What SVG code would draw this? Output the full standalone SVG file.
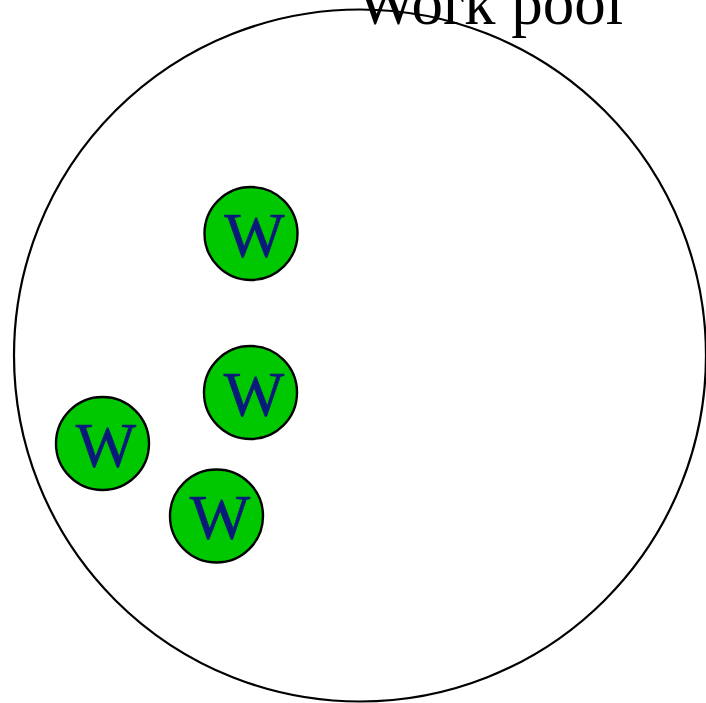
<svg xmlns="http://www.w3.org/2000/svg" width="706" height="703" viewBox="0 0 706 703">
<style>
.pool{fill:none;stroke:#000;stroke-width:2.2}
.w circle{fill:#00c800;stroke:#000;stroke-width:2.4}
.w text{font-family:"Liberation Serif",serif;font-size:64px;fill:#0a1a7a;stroke:#0a1a7a;stroke-width:0.6;text-anchor:middle}
.title{font-family:"Liberation Serif",serif;font-size:63px;fill:#000}
</style>
<rect width="706" height="703" fill="#fff"/>
<g id="pool">
<circle class="pool" cx="360" cy="355.5" r="346"/>
<text class="title" x="357" y="24">Work pool</text>
</g>
<g id="w1" class="w"><circle cx="251" cy="233.5" r="46.5"/><text x="254.5" y="257">W</text></g>
<g id="w2" class="w"><circle cx="250.5" cy="392.5" r="46.5"/><text x="254" y="416">W</text></g>
<g id="w3" class="w"><circle cx="102.5" cy="443.5" r="46.5"/><text x="106" y="467">W</text></g>
<g id="w4" class="w"><circle cx="216.5" cy="516" r="46.5"/><text x="220" y="539">W</text></g>
<g id="connectors"></g>
</svg>
